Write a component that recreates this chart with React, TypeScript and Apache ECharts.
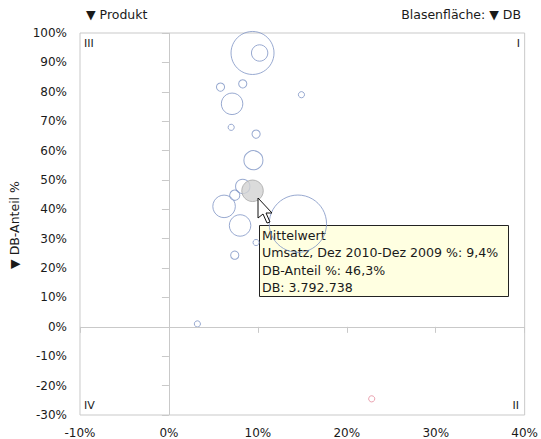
import React, { useEffect, useRef } from "react";
import * as echarts from "echarts";

// Umsatzveränderung Dez 2010 vs. Dez 2009 (%) per product
const productX = [9.4, 10.2, 5.8, 8.3, 7.1, 14.9, 7.0, 9.8, 9.5, 8.3, 7.4, 6.2, 8.0, 7.4, 9.8, 14.5, 3.2, 22.8];
// DB-Anteil (%) per product
const productY = [93.2, 93.2, 81.6, 82.7, 75.9, 79.0, 67.9, 65.6, 56.7, 47.8, 44.8, 41.0, 34.5, 24.4, 28.7, 35.1, 1.0, -24.5];
// Deckungsbeitrag per product (bubble area)
const productDB = [
  15170000, 2200000, 550000, 550000, 3790000, 310000, 310000, 550000, 2980000,
  1690000, 860000, 4160000, 3790000, 550000, 310000, 26970000, 310000, -310000,
];

// Average over all products
const meanX = 9.4;
const meanY = 46.3;
const meanDB = 3792738;

const xTicks = { min: -10, max: 40, step: 10 };
const yTicks = { min: -30, max: 100, step: 10 };

const FONT = "DejaVu Sans";
const TEXT = "#1a1a1a";
const BLUE = "#7d93c4";
const RED = "#e3899a";

const fmtDE = (v: number, digits: number) =>
  v.toFixed(digits).replace(".", ",");
const fmtInt = (v: number) =>
  Math.round(v).toString().replace(/\B(?=(\d{3})+(?!\d))/g, ".");

// bubble diameter grows with the square root of DB (area proportional)
const bubbleSize = (db: number) => 21.5 * Math.sqrt(Math.abs(db) / meanDB);

export default function App() {
  const ref = useRef<HTMLDivElement>(null);

  useEffect(() => {
    if (!ref.current) return;
    const chart = echarts.init(ref.current, undefined, { renderer: "svg" });

    const products = productX.map((x, i) => ({
      value: [x, productY[i], productDB[i]],
      itemStyle: { borderColor: productDB[i] < 0 ? RED : BLUE },
    }));

    const tipLines = [
      "Mittelwert",
      `Umsatz, Dez 2010-Dez 2009 %: ${fmtDE(meanX, 1)}%`,
      `DB-Anteil %: ${fmtDE(meanY, 1)}%`,
      `DB: ${fmtInt(meanDB)}`,
    ];

    const tipX = 259;
    const tipY = 225;

    chart.setOption({
      animation: false,
      textStyle: { fontFamily: FONT },
      grid: {
        left: 80,
        right: 15,
        top: 33,
        bottom: 24,
        show: true,
        borderColor: "#c9c9c9",
        borderWidth: 1,
      },
      xAxis: {
        type: "value",
        min: xTicks.min,
        max: xTicks.max,
        interval: xTicks.step,
        axisLine: { show: false },
        axisTick: { show: true, length: 6, lineStyle: { color: "#c9c9c9" } },
        splitLine: { show: false },
        axisLabel: {
          formatter: "{value}%",
          color: TEXT,
          fontSize: 12,
          fontFamily: FONT,
          margin: 12,
        },
      },
      yAxis: {
        type: "value",
        min: yTicks.min,
        max: yTicks.max,
        interval: yTicks.step,
        axisLine: { show: false },
        axisTick: { show: true, length: 7, lineStyle: { color: "#c9c9c9" } },
        splitLine: { show: false },
        axisLabel: {
          formatter: "{value}%",
          color: TEXT,
          fontSize: 12,
          fontFamily: FONT,
          margin: 13,
        },
      },
      series: [
        {
          type: "scatter",
          name: "Produkt",
          data: products,
          symbol: "circle",
          symbolSize: (v: number[]) => bubbleSize(v[2]),
          itemStyle: { color: "rgba(255,255,255,0)", borderWidth: 1 },
          silent: true,
          z: 3,
          markLine: {
            silent: true,
            symbol: "none",
            label: { show: false },
            lineStyle: { color: "#c9c9c9", type: "solid", width: 1 },
            data: [{ xAxis: 0 }, { yAxis: 0 }],
          },
        },
        {
          type: "scatter",
          name: "Mittelwert",
          data: [[meanX, meanY, meanDB]],
          symbol: "circle",
          symbolSize: (v: number[]) => bubbleSize(v[2]),
          itemStyle: { color: "#d2d2d2", borderColor: "#a6a6a6", borderWidth: 1 },
          silent: true,
          z: 4,
        },
      ],
      graphic: [
        {
          type: "text",
          left: 86,
          top: 8,
          style: { text: "▼ Produkt", font: `12.5px ${FONT}`, fill: TEXT },
        },
        {
          type: "text",
          right: 20,
          top: 8,
          style: { text: "Blasenfläche: ▼ DB", font: `12.5px ${FONT}`, fill: TEXT },
        },
        {
          type: "text",
          x: 14,
          y: 225,
          rotation: Math.PI / 2,
          style: {
            text: "▼ DB-Anteil %",
            font: `12.5px ${FONT}`,
            fill: TEXT,
            align: "center",
            verticalAlign: "middle",
          },
        },
        { type: "text", x: 84, y: 38, style: { text: "III", font: `11px ${FONT}`, fill: TEXT } },
        { type: "text", x: 520, y: 38, style: { text: "I", font: `11px ${FONT}`, fill: TEXT, align: "right" } },
        { type: "text", x: 84, y: 400, style: { text: "IV", font: `11px ${FONT}`, fill: TEXT } },
        { type: "text", x: 519, y: 400, style: { text: "II", font: `11px ${FONT}`, fill: TEXT, align: "right" } },
        {
          type: "group",
          x: tipX,
          y: tipY,
          z: 100,
          children: [
            {
              type: "rect",
              shape: { x: 0.5, y: 0.5, width: 249, height: 71 },
              style: { fill: "#ffffe1", stroke: "#222", lineWidth: 1 },
            },
            ...tipLines.map((t, i) => ({
              type: "text",
              x: 3,
              y: 4 + i * 17.3,
              style: { text: t, font: `12.6px ${FONT}`, fill: TEXT },
            })),
          ],
        },
        {
          type: "polygon",
          x: 258,
          y: 198,
          z: 110,
          shape: {
            points: [
              [0, 0], [0, 20], [5, 16], [9, 25], [12, 24], [8, 15], [14, 15],
            ],
          },
          style: { fill: "#fff", stroke: "#111", lineWidth: 1 },
        },
      ],
    });

    return () => chart.dispose();
  }, []);

  return (
    <div
      ref={ref}
      style={{ position: "fixed", left: 0, top: 0, width: 541, height: 439, background: "#fff" }}
    />
  );
}
